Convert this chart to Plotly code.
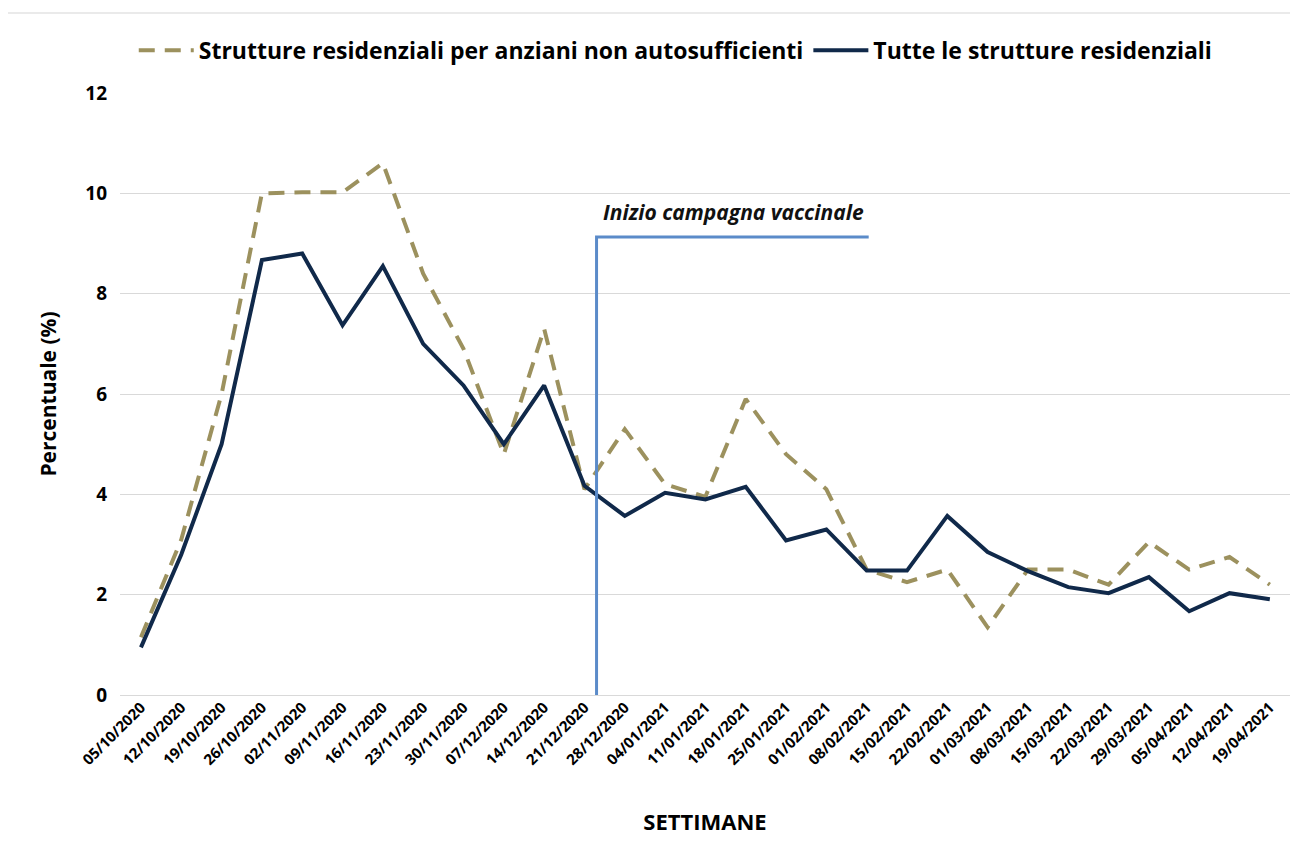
import plotly.graph_objects as go

# Settimane (categorie asse x)
settimane = ['05/10/2020', '12/10/2020', '19/10/2020', '26/10/2020', '02/11/2020', '09/11/2020',
             '16/11/2020', '23/11/2020', '30/11/2020', '07/12/2020', '14/12/2020', '21/12/2020',
             '28/12/2020', '04/01/2021', '11/01/2021', '18/01/2021', '25/01/2021', '01/02/2021',
             '08/02/2021', '15/02/2021', '22/02/2021', '01/03/2021', '08/03/2021', '15/03/2021',
             '22/03/2021', '29/03/2021', '05/04/2021', '12/04/2021', '19/04/2021']

# Percentuali
anziani = [1.15, 3.1, 6.0, 10.0, 10.02, 10.02, 10.6, 8.4, 6.9, 4.8, 7.3, 4.1, 5.3, 4.2, 3.95,
           5.9, 4.8, 4.1, 2.5, 2.25, 2.5, 1.35, 2.5, 2.5, 2.2, 3.05, 2.5, 2.75, 2.2]
tutte = [0.95, 2.8, 5.0, 8.67, 8.8, 7.37, 8.55, 7.0, 6.17, 5.0, 6.17, 4.17, 3.57, 4.03, 3.9,
         4.15, 3.08, 3.3, 2.48, 2.48, 3.57, 2.85, 2.47, 2.15, 2.03, 2.35, 1.67, 2.03, 1.91]

# Inizio campagna vaccinale (posizione in indice di categoria)
vacc_x0 = 11.3
vacc_x1 = 18.05
vacc_y = 9.13

font_fam = 'Open Sans, sans-serif'

fig = go.Figure()
fig.add_trace(go.Scatter(x=settimane, y=anziani, mode='lines',
                         name='Strutture residenziali per anziani non autosufficienti',
                         line=dict(color='#9C915E', width=4, dash='16px,10px')))
fig.add_trace(go.Scatter(x=settimane, y=tutte, mode='lines',
                         name='Tutte le strutture residenziali',
                         line=dict(color='#10294A', width=4)))

# Linea inizio campagna
fig.add_shape(type='path', xref='x', yref='y',
              path=f'M {vacc_x0} 0 L {vacc_x0} {vacc_y} L {vacc_x1} {vacc_y}',
              line=dict(color='#5B8BC9', width=3))
fig.add_annotation(text='<i>Inizio campagna vaccinale</i>', x=vacc_x0 + 0.1, y=9.62,
                   xref='x', yref='y', xanchor='left', yanchor='middle', showarrow=False,
                   font=dict(family=font_fam, size=21, color='#111111', weight='bold'))

# Bordo esterno
fig.add_shape(type='rect', xref='paper', yref='paper', x0=-0.099, x1=1.006, y0=-0.4, y1=1.133,
              line=dict(color='#E3E3E3', width=1.5), layer='below')

# la pagina ha un margine di 8px, quindi si riduce la figura
fig.update_layout(
    width=1290, height=848,
    margin=dict(l=112, r=8, t=85, b=161),
    plot_bgcolor='white', paper_bgcolor='white',
    font=dict(family=font_fam, color='black'),
    legend=dict(orientation='h', x=0.475, y=1.071, xanchor='center', yanchor='middle',
                font=dict(size=23, weight='bold'), itemwidth=55, traceorder='normal'),
    xaxis=dict(type='category', range=[-0.52, 28.5], tickangle=-45, showgrid=False,
               tickfont=dict(size=15, weight='bold'), showline=False, ticks='',
               title=dict(text='SETTIMANE', font=dict(size=22, weight='bold'), standoff=46)),
    yaxis=dict(range=[0, 12], dtick=2, gridcolor='#D9D9D9', gridwidth=1, zeroline=True,
               zerolinecolor='#D9D9D9', zerolinewidth=1, ticks='', ticklabelstandoff=12,
               tickfont=dict(size=19, weight='bold'),
               title=dict(text='Percentuale (%)', font=dict(size=21, weight='bold'), standoff=22)),
)

fig.write_html('out.html')
